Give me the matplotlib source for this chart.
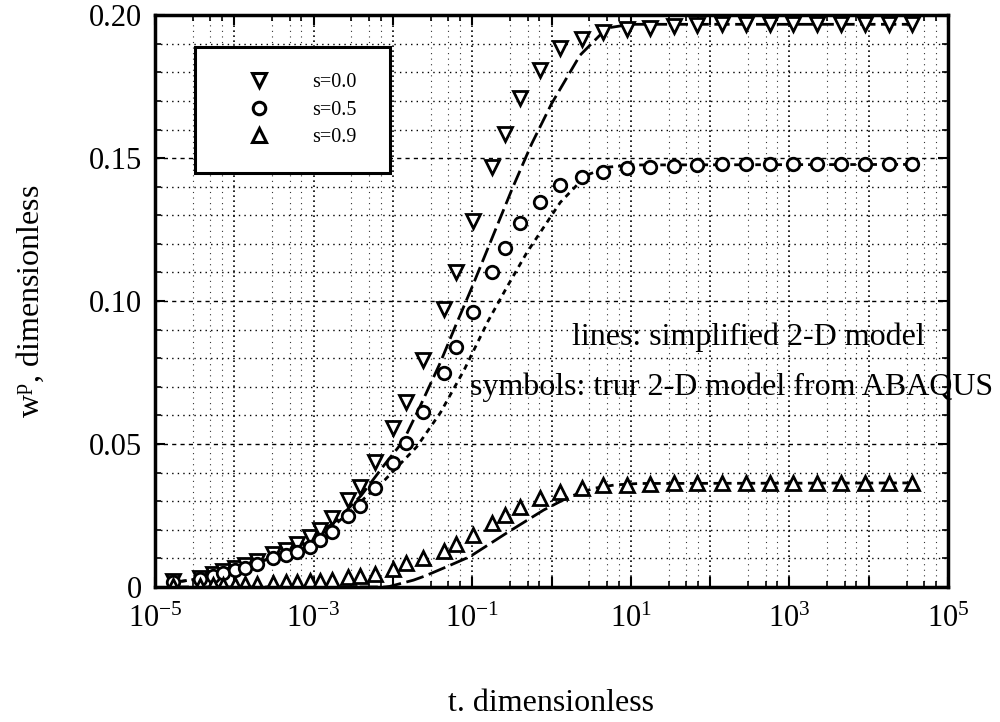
import numpy as np
import matplotlib
matplotlib.use('Agg')
import matplotlib.pyplot as plt
from matplotlib.ticker import FuncFormatter, LogLocator, MultipleLocator, NullFormatter
from matplotlib.lines import Line2D
from matplotlib.patches import Rectangle

plt.rcParams['font.family'] = ['Liberation Serif', 'DejaVu Serif']
plt.rcParams['mathtext.fontset'] = 'custom'
plt.rcParams['mathtext.rm'] = 'Liberation Serif'
plt.rcParams['mathtext.it'] = 'Liberation Serif:italic'

# ---------------- data (log10 t, w^p) ----------------
# symbols: ABAQUS results
sym_logt = [-4.77, -4.43, -4.27, -4.14, -3.99, -3.87, -3.72, -3.51, -3.35, -3.21,
            -3.05, -2.92, -2.77, -2.56, -2.42, -2.23, -2.00, -1.83, -1.62, -1.36,
            -1.20, -0.99, -0.75, -0.59, -0.40, -0.15, 0.11, 0.38, 0.65, 0.95,
            1.24, 1.54, 1.83, 2.15, 2.45, 2.75, 3.05, 3.35, 3.65, 3.95, 4.25, 4.55]
sym_s00 = [0.0020, 0.0032, 0.0045, 0.0055, 0.0066, 0.0078, 0.0092, 0.0115, 0.0130, 0.0150,
           0.0176, 0.0199, 0.0240, 0.0304, 0.0351, 0.0438, 0.0555, 0.0648, 0.0794, 0.0974,
           0.1100, 0.1280, 0.1470, 0.1586, 0.1709, 0.1808, 0.1884, 0.1918, 0.1942, 0.1953,
           0.1955, 0.1962, 0.1965, 0.1968, 0.1968, 0.1968, 0.1968, 0.1968, 0.1968, 0.1968, 0.1968, 0.1968]
sym_s05 = [0.0018, 0.0028, 0.0040, 0.0048, 0.0058, 0.0068, 0.0082, 0.0100, 0.0112, 0.0122,
           0.0141, 0.0164, 0.0193, 0.0250, 0.0285, 0.0345, 0.0432, 0.0502, 0.0613, 0.0747,
           0.0840, 0.0963, 0.1100, 0.1184, 0.1272, 0.1347, 0.1406, 0.1435, 0.1452, 0.1464,
           0.1470, 0.1473, 0.1476, 0.1478, 0.1478, 0.1478, 0.1478, 0.1478, 0.1478, 0.1478, 0.1478, 0.1478]
sym_s09 = [0.0003, 0.0005, 0.0006, 0.0007, 0.0008, 0.0009, 0.0012, 0.0014, 0.0016, 0.0018,
           0.0020, 0.0022, 0.0024, 0.0034, 0.0038, 0.0046, 0.0063, 0.0083, 0.0102, 0.0127,
           0.0152, 0.0182, 0.0223, 0.0252, 0.0281, 0.0310, 0.0333, 0.0345, 0.0357, 0.0358,
           0.0360, 0.0364, 0.0364, 0.0365, 0.0365, 0.0365, 0.0365, 0.0365, 0.0365, 0.0365, 0.0365, 0.0365]

# lines: simplified 2-D model
line00_logt = [-4.8, -4.4, -4.0, -3.7, -3.3, -3.0, -2.7, -2.4, -2.1, -1.87, -1.66, -1.41,
               -1.2, -1.0, -0.75, -0.5, -0.25, 0.0, 0.36, 0.7, 1.0, 4.6]
line00_w = [0.0015, 0.0030, 0.0055, 0.0085, 0.0130, 0.0172, 0.0235, 0.0320, 0.0430, 0.0510, 0.0630, 0.0780,
            0.0920, 0.1050, 0.1220, 0.1390, 0.1550, 0.1690, 0.1860, 0.1955, 0.1968, 0.1968]
line05_logt = [-4.8, -4.4, -4.0, -3.7, -3.3, -3.0, -2.7, -2.4, -2.1, -1.7, -1.4, -1.1,
               -0.8, -0.56, -0.31, 0.11, 0.44, 0.7, 1.0, 4.6]
line05_w = [0.0015, 0.0030, 0.0055, 0.0085, 0.0125, 0.0165, 0.0225, 0.0300, 0.0375, 0.0490, 0.0610, 0.0760,
            0.0930, 0.1050, 0.1170, 0.1345, 0.1440, 0.1468, 0.1476, 0.1478]
line09_logt = [-4.8, -2.1, -2.04, -1.74, -1.6, -1.32, -1.03, -0.57, -0.10, 0.23, 0.53, 0.8, 1.1, 4.6]
line09_w = [0.0, 0.0, 0.0002, 0.0024, 0.0038, 0.0071, 0.0106, 0.0188, 0.0269, 0.0316, 0.0345, 0.0357, 0.0362, 0.0364]

labels = ['s=0.0', 's=0.5', 's=0.9']
markers = ['v', 'o', '^']
msizes = [10.5, 9, 10.5]
txt_lines = 'lines: simplified 2-D model'
txt_symbols = 'symbols: trur 2-D model from ABAQUS'

# ---------------- figure ----------------
fig = plt.figure(figsize=(10, 7.22), dpi=100)
ax = fig.add_axes([0.155, 0.187, 0.793, 0.792])

ax.set_xscale('log')
ax.set_xlim(1e-5, 1e5)
ax.set_ylim(0, 0.2)

ax.set_yticks([0, 0.05, 0.10, 0.15, 0.20])
ax.yaxis.set_minor_locator(MultipleLocator(0.01))
ax.xaxis.set_major_locator(LogLocator(base=10, subs=(1.0,), numticks=20))
ax.xaxis.set_minor_locator(LogLocator(base=10, subs=(3.0, 5.0, 7.0), numticks=20))
ax.xaxis.set_minor_formatter(NullFormatter())

def xfmt(v, pos):
    e = int(round(np.log10(v)))
    if e % 2 != 0:
        return r'$\mathregular{10^{%d}}$' % e
    return ''
ax.xaxis.set_major_formatter(FuncFormatter(xfmt))

def yfmt(v, pos):
    if abs(v) < 1e-9:
        return '0'
    return '%.2f' % v
ax.yaxis.set_major_formatter(FuncFormatter(yfmt))

ax.grid(True, which='major', axis='y', color='black', linestyle=(0, (3, 3)), linewidth=1.0)
ax.grid(True, which='minor', axis='y', color='black', linestyle=(0, (1, 3)), linewidth=1.0)
ax.grid(True, which='major', axis='x', color='black', linestyle=(0, (1, 2)), linewidth=1.2)
ax.grid(True, which='minor', axis='x', color='black', linestyle=(0, (1, 4)), linewidth=0.8, alpha=0.8)
ax.set_axisbelow(True)

ax.tick_params(which='both', direction='in', top=True, right=True, colors='black')
ax.tick_params(which='major', length=7, width=1.5, labelsize=22)
ax.tick_params(axis='y', which='major', pad=9)
ax.tick_params(axis='x', which='major', pad=13)
ax.tick_params(which='minor', length=4, width=1.2)
for sp in ax.spines.values():
    sp.set_linewidth(2.5)

# lines
ax.plot(10**np.array(line00_logt), line00_w, color='black', lw=2.0, linestyle=(0, (5.5, 2)))
ax.plot(10**np.array(line05_logt), line05_w, color='black', lw=2.0, linestyle=(0, (2, 1.8)))
ax.plot(10**np.array(line09_logt), line09_w, color='black', lw=2.0, linestyle=(0, (6.5, 2)))

# symbols
t_sym = 10**np.array(sym_logt)
for ys, mk, ms in zip([sym_s00, sym_s05, sym_s09], markers, msizes):
    ax.plot(t_sym, ys, linestyle='none', marker=mk, markersize=ms,
            markerfacecolor='white', markeredgecolor='black', markeredgewidth=2.0)

# annotations
ax.text(10**0.258, 0.0846, txt_lines, fontsize=23, ha='left', va='baseline')
ax.text(10**-1.028, 0.0671, txt_symbols, fontsize=23, ha='left', va='baseline', clip_on=False)

# legend box
rect = Rectangle((0.050, 0.724), 0.246, 0.220, transform=ax.transAxes,
                 facecolor='white', edgecolor='black', linewidth=2.2, zorder=5)
ax.add_patch(rect)
handles = [Line2D([], [], linestyle='none', marker=m, markersize=ms, markerfacecolor='white',
                  markeredgecolor='black', markeredgewidth=2.2) for m, ms in zip(markers, msizes)]
leg = ax.legend(handles, labels, loc='center', bbox_to_anchor=(0.18, 0.834), frameon=False,
                fontsize=14.5, labelspacing=0.42, handletextpad=1.6, handlelength=2.0)
leg.set_zorder(6)

ax.set_ylabel(r'w$^{\mathregular{p}}$, dimensionless', fontsize=23)
ax.yaxis.set_label_coords(-0.137, 0.5)
ax.set_xlabel('t. dimensionless', fontsize=23)
ax.xaxis.set_label_coords(0.5, -0.178)

fig.savefig('out.png', dpi=100)
